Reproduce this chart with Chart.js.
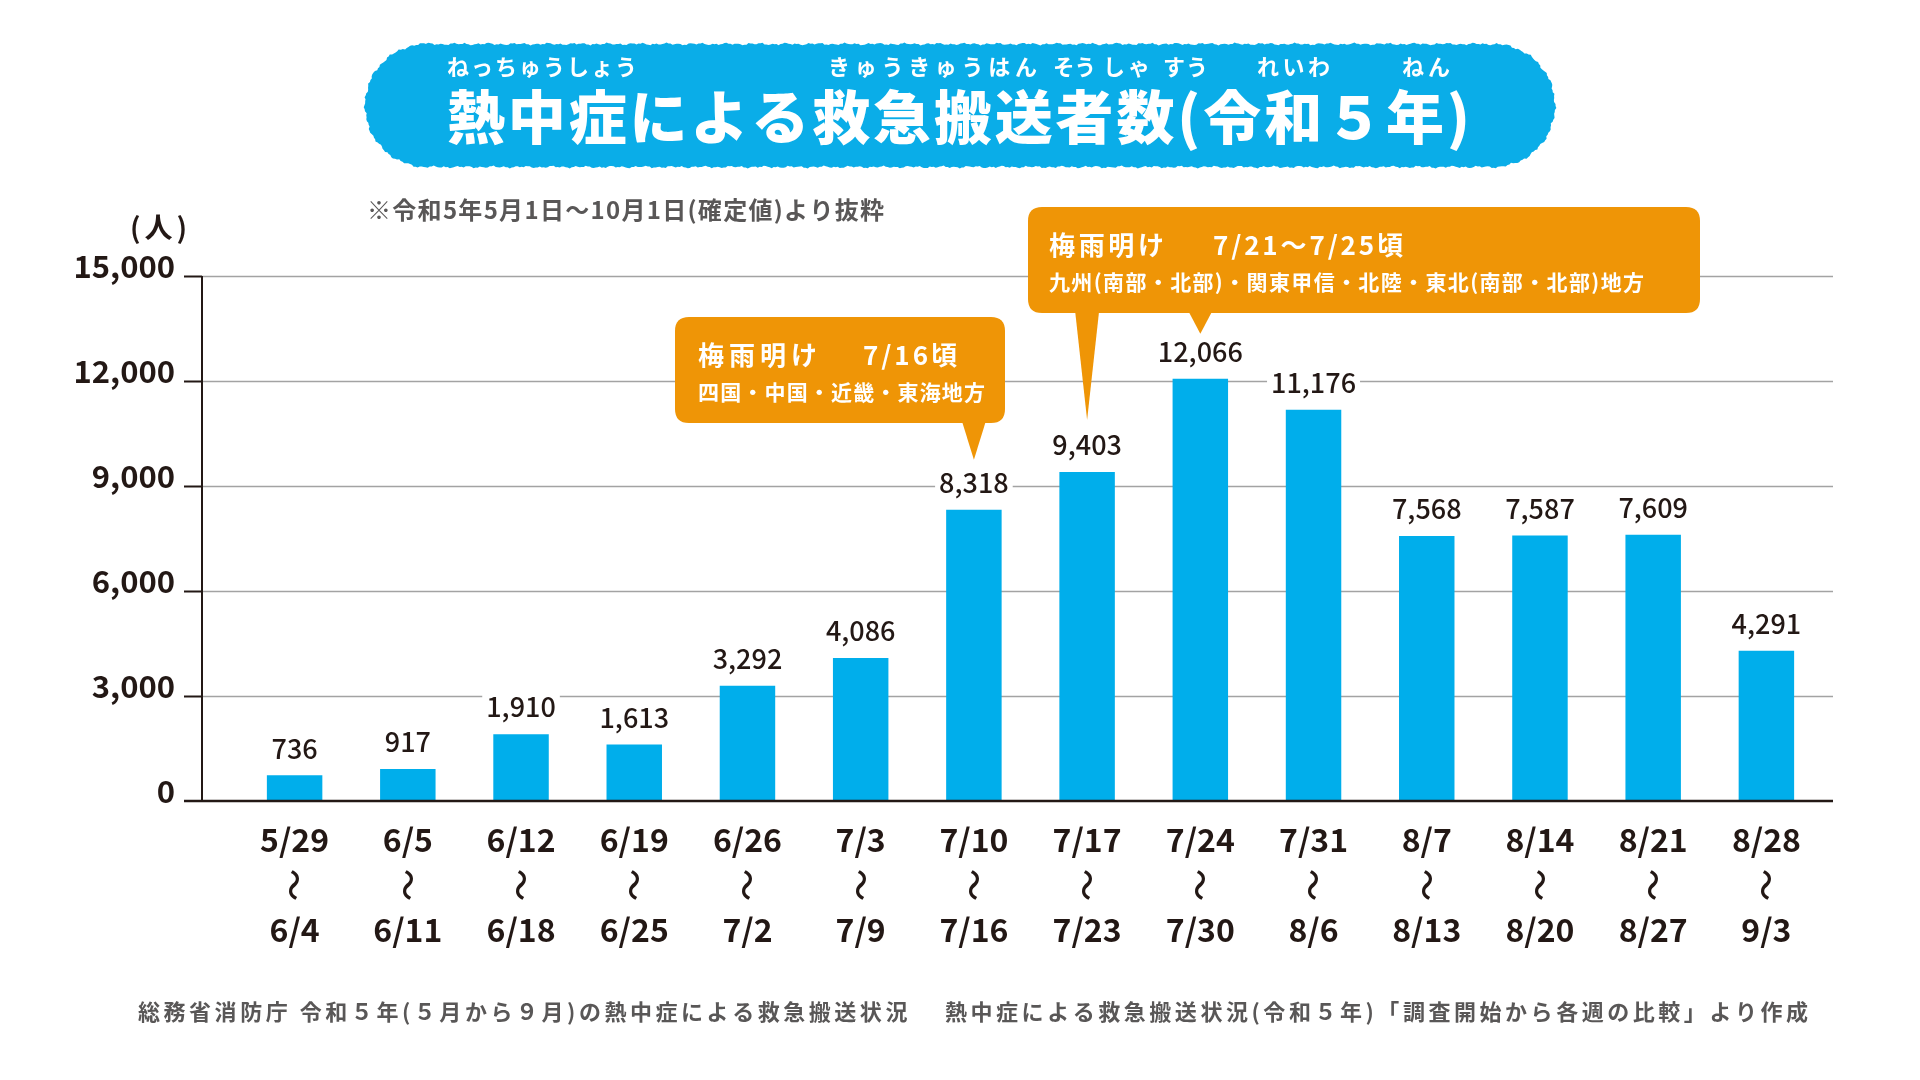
<!DOCTYPE html>
<html><head><meta charset="utf-8">
<script src="https://cdn.jsdelivr.net/npm/chart.js@4.4.1/dist/chart.umd.min.js"></script>
<style>html,body{margin:0;padding:0;background:#fff;overflow:hidden}canvas{display:block}</style>
</head><body>
<canvas id="c" width="1920" height="1080" style="width:1920px;height:1080px"></canvas>
<script>
// ---- data ----
const weekStart = ['5/29','6/5','6/12','6/19','6/26','7/3','7/10','7/17','7/24','7/31','8/7','8/14','8/21','8/28'];
const weekEnd   = ['6/4','6/11','6/18','6/25','7/2','7/9','7/16','7/23','7/30','8/6','8/13','8/20','8/27','9/3'];
const patients  = [736,917,1910,1613,3292,4086,8318,9403,12066,11176,7568,7587,7609,4291];
const yTickValues = [0,3000,6000,9000,12000,15000];
const yUnit = '(人)';
const titleText = '熱中症による救急搬送者数(令和５年)';
const noteText = '※令和5年5月1日～10月1日(確定値)より抜粋';
const footerText = '総務省消防庁 令和５年(５月から９月)の熱中症による救急搬送状況　 熱中症による救急搬送状況(令和５年)「調査開始から各週の比較」より作成';

const JP = '"Noto Sans CJK JP","Noto Sans",sans-serif';
const INK = '#231815';
const GRAY = '#595757';
const BLUE = '#00AEEB';
const ORANGE = '#EF9506';

function fitText(ctx, text, x0, y, x1) {
  const w = x1 - x0;
  ctx.letterSpacing = '0px';
  const n = [...text].length;
  const m = ctx.measureText(text).width;
  ctx.textAlign = 'left';
  if (m >= w || n < 2) { ctx.fillText(text, x0, y, w); return; }
  const s = (w - m) / (n - 1);
  ctx.letterSpacing = s + 'px';
  ctx.fillText(text, x0, y);
  ctx.letterSpacing = '0px';
}

const furigana = [
  ['ねっちゅうしょう', 447, 637],
  ['きゅうきゅうはん', 828, 1037],
  ['そう', 1053, 1096],
  ['しゃ', 1103, 1150],
  ['すう', 1163, 1208],
  ['れいわ', 1257, 1330],
  ['ねん', 1402, 1450]
];

const callouts = [
  { box:[675,317,1005,423], pointers:[{bar:6, gap:23}],
    l1a:['梅雨明け',698,817], l1b:['7/16頃',863,957], l2:['四国・中国・近畿・東海地方',698,985] },
  { box:[1028,207,1700,313], pointers:[{bar:7, gap:25},{bar:8, gap:18}],
    l1a:['梅雨明け',1049,1164], l1b:['7/21～7/25頃',1213,1403], l2:['九州(南部・北部)・関東甲信・北陸・東北(南部・北部)地方',1049,1644] }
];

function pillPath(ctx, x0, y0, x1, y1) {
  const r = (y1 - y0) / 2, cy = (y0 + y1) / 2;
  const L = x1 - x0 - 2 * r;
  const per = 2 * L + 2 * Math.PI * r;
  const step = 2;
  ctx.beginPath();
  for (let s = 0; s <= per; s += step) {
    let px, py, nx, ny;
    if (s < L) { px = x0 + r + s; py = y0; nx = 0; ny = -1; }
    else if (s < L + Math.PI * r) {
      const a = -Math.PI / 2 + (s - L) / r;
      nx = Math.cos(a); ny = Math.sin(a); px = x1 - r + r * nx; py = cy + r * ny;
    } else if (s < 2 * L + Math.PI * r) { px = x1 - r - (s - L - Math.PI * r); py = y1; nx = 0; ny = 1; }
    else {
      const a = Math.PI / 2 + (s - 2 * L - Math.PI * r) / r;
      nx = Math.cos(a); ny = Math.sin(a); px = x0 + r + r * nx; py = cy + r * ny;
    }
    const wob = 0.7 * Math.sin(s * 0.53) + 0.5 * Math.sin(s * 0.21 + 1.3) + 0.4 * Math.sin(s * 1.37);
    const X = px + nx * wob, Y = py + ny * wob;
    if (s === 0) ctx.moveTo(X, Y); else ctx.lineTo(X, Y);
  }
  ctx.closePath();
}

function roundRect(ctx, x0, y0, x1, y1, r) {
  ctx.beginPath();
  ctx.moveTo(x0 + r, y0);
  ctx.lineTo(x1 - r, y0); ctx.quadraticCurveTo(x1, y0, x1, y0 + r);
  ctx.lineTo(x1, y1 - r); ctx.quadraticCurveTo(x1, y1, x1 - r, y1);
  ctx.lineTo(x0 + r, y1); ctx.quadraticCurveTo(x0, y1, x0, y1 - r);
  ctx.lineTo(x0, y0 + r); ctx.quadraticCurveTo(x0, y0, x0 + r, y0);
  ctx.closePath();
}

const customGrid = {
  id: 'customGrid',
  beforeDatasetsDraw(chart) {
    const ctx = chart.ctx, ca = chart.chartArea, ys = chart.scales.y;
    const axisX = ca.left - 36, rightX = ca.right + 10, tickL = 18;
    ctx.save();
    yTickValues.forEach(v => {
      if (v === 0) return;
      const y = Math.round(ys.getPixelForValue(v)) + 0.5;
      ctx.strokeStyle = '#A3A3A3'; ctx.lineWidth = 1.5;
      ctx.beginPath(); ctx.moveTo(axisX, y); ctx.lineTo(rightX, y); ctx.stroke();
      ctx.strokeStyle = INK; ctx.lineWidth = 2;
      ctx.beginPath(); ctx.moveTo(axisX - tickL, y); ctx.lineTo(axisX, y); ctx.stroke();
    });
    ctx.strokeStyle = INK; ctx.lineWidth = 2;
    ctx.beginPath(); ctx.moveTo(axisX, ys.getPixelForValue(15000)); ctx.lineTo(axisX, ys.getPixelForValue(0)); ctx.stroke();
    ctx.restore();
  },
  afterDatasetsDraw(chart) {
    const ctx = chart.ctx, ca = chart.chartArea, ys = chart.scales.y;
    const axisX = ca.left - 36, rightX = ca.right + 10;
    const y0 = ys.getPixelForValue(0);
    ctx.save();
    ctx.strokeStyle = INK; ctx.lineWidth = 2.5;
    ctx.beginPath(); ctx.moveTo(axisX - 18, y0); ctx.lineTo(rightX, y0); ctx.stroke();
    // value labels
    const meta = chart.getDatasetMeta(0);
    ctx.font = '500 27px ' + JP;
    ctx.textBaseline = 'middle'; ctx.textAlign = 'center';
    meta.data.forEach((bar, i) => {
      const t = patients[i].toLocaleString('en-US');
      const w = ctx.measureText(t).width;
      const cy = bar.y - 27;
      ctx.fillStyle = '#fff';
      ctx.fillRect(bar.x - w / 2 - 4, cy - 14, w + 8, 28);
      ctx.fillStyle = INK;
      ctx.fillText(t, bar.x, cy);
    });
    // wave marks between the two date lines
    const xs = chart.scales.x;
    ctx.font = '500 32px ' + JP;
    patients.forEach((_, i) => {
      const x = xs.getPixelForValue(i);
      ctx.save();
      ctx.translate(x, 885);
      ctx.rotate(Math.PI / 2);
      ctx.fillStyle = INK;
      ctx.fillText('～', 0, 0);
      ctx.restore();
    });
    ctx.restore();
  },
  afterDraw(chart) {
    const ctx = chart.ctx;
    ctx.save();
    // banner
    pillPath(ctx, 365, 44, 1555, 167);
    ctx.fillStyle = '#0AADE8'; ctx.fill();
    ctx.fillStyle = '#fff'; ctx.textBaseline = 'middle';
    ctx.font = '900 58px ' + JP;
    fitText(ctx, titleText, 447, 117, 1470);
    ctx.font = 'bold 22px ' + JP;
    furigana.forEach(f => fitText(ctx, f[0], f[1], 67, f[2]));
    // note
    ctx.fillStyle = GRAY; ctx.font = 'bold 24px ' + JP;
    fitText(ctx, noteText, 367, 210, 884);
    // unit
    ctx.fillStyle = INK; ctx.font = 'bold 28px ' + JP;
    fitText(ctx, yUnit, 130, 227, 187);
    // footer
    ctx.fillStyle = GRAY; ctx.font = 'bold 22px ' + JP;
    fitText(ctx, footerText, 138, 1012, 1808);
    // callouts
    const meta = chart.getDatasetMeta(0);
    callouts.forEach(c => {
      const [bx0, by0, bx1, by1] = c.box;
      ctx.fillStyle = ORANGE;
      roundRect(ctx, bx0, by0, bx1, by1, 14); ctx.fill();
      c.pointers.forEach(p => {
        const bar = meta.data[p.bar];
        const tipX = bar.x, tipY = bar.y - 27 - p.gap;
        ctx.beginPath();
        ctx.moveTo(tipX - 12, by1 - 2);
        ctx.lineTo(tipX + 12, by1 - 2);
        ctx.lineTo(tipX, tipY);
        ctx.closePath(); ctx.fill();
      });
      ctx.fillStyle = '#fff';
      ctx.font = 'bold 26px ' + JP;
      const l1y = by0 + 38;
      fitText(ctx, c.l1a[0], c.l1a[1], l1y, c.l1a[2]);
      fitText(ctx, c.l1b[0], c.l1b[1], l1y, c.l1b[2]);
      ctx.font = 'bold 21px ' + JP;
      fitText(ctx, c.l2[0], c.l2[1], by0 + 75, c.l2[2]);
    });
    ctx.restore();
  }
};

new Chart(document.getElementById('c'), {
  type: 'bar',
  data: {
    labels: weekStart.map((s, i) => [s, '', weekEnd[i]]),
    datasets: [{ data: patients, backgroundColor: BLUE, borderWidth: 0, barPercentage: 0.49, categoryPercentage: 1 }]
  },
  options: {
    responsive: false, animation: false, devicePixelRatio: 1,
    layout: { padding: { left: 0, right: 97, top: 276, bottom: 0 } },
    plugins: { legend: { display: false }, tooltip: { enabled: false }, title: { display: false } },
    scales: {
      x: {
        grid: { display: false, drawTicks: false }, border: { display: false },
        ticks: { color: INK, font: { family: JP, size: 32, weight: 'bold', lineHeight: 1.40625 }, padding: 16.5, autoSkip: false, maxRotation: 0 },
        afterFit(s) { s.height = 279; }
      },
      y: {
        min: 0, max: 15000,
        grid: { display: false, drawTicks: false }, border: { display: false },
        afterBuildTicks(s) { s.ticks = yTickValues.map(v => ({ value: v })); },
        ticks: { color: INK, font: { family: JP, size: 31, weight: 'bold' }, padding: 63, labelOffset: -10,
          callback: v => Number(v).toLocaleString('en-US') },
        afterFit(s) { s.width = 238; }
      }
    }
  },
  plugins: [customGrid]
});
</script>
</body></html>
